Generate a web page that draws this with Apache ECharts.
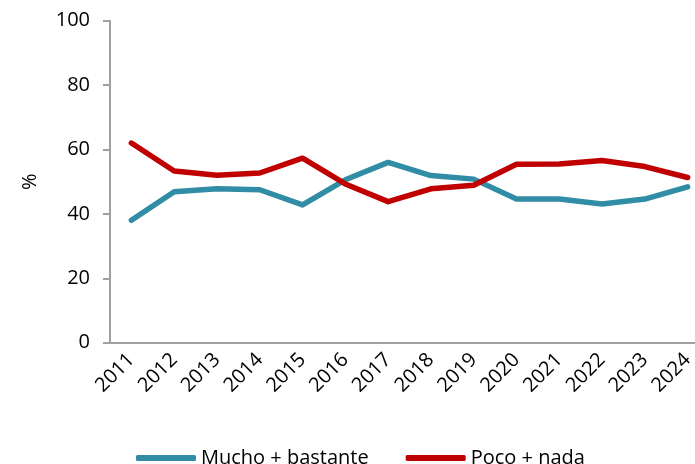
<!DOCTYPE html>
<html>
<head>
<meta charset="utf-8">
<script src="https://cdn.jsdelivr.net/npm/echarts@6/dist/echarts.min.js"></script>
<style>
  html, body { margin: 0; padding: 0; background: #fff; }
  #chart { width: 695px; height: 464px; }
</style>
</head>
<body>
<div id="chart"></div>
<script>
// años
const years = ['2011', '2012', '2013', '2014', '2015', '2016', '2017', '2018', '2019', '2020', '2021', '2022', '2023', '2024'];
// Mucho + bastante
const muchoBastante = [38.0, 46.9, 47.8, 47.5, 42.8, 50.6, 56.0, 51.9, 50.8, 44.6, 44.6, 43.1, 44.6, 48.4];
// Poco + nada
const pocoNada = [62.0, 53.3, 52.0, 52.7, 57.3, 49.3, 43.8, 47.8, 48.9, 55.4, 55.5, 56.6, 54.7, 51.3];
const yTicks = [0, 20, 40, 60, 80, 100];

const chart = echarts.init(document.getElementById('chart'));
const font = 'Open Sans';

const option = {
    animation: false,
    textStyle: { fontFamily: font },
    // el área de trazado sobrepasa el borde derecho (como en el original)
    grid: { left: 110, top: 20.7, width: 599, height: 322, outerBoundsMode: 'none', containLabel: false },
    legend: {
        left: 131,
        top: 443,
        icon: 'roundRect',
        itemWidth: 60,
        itemHeight: 6,
        itemGap: 37,
        textStyle: { fontFamily: font, fontSize: 20, color: '#000' },
        data: ['Mucho + bastante', 'Poco + nada']
    },
    xAxis: {
        type: 'category',
        data: years,
        boundaryGap: true,
        axisLine: { lineStyle: { color: '#A0A0A0', width: 2 } },
        axisTick: { alignWithLabel: true, length: 5, lineStyle: { color: '#A0A0A0', width: 2 } },
        axisLabel: { rotate: 45, margin: 14, fontSize: 20, color: '#000', fontFamily: font, interval: 0 }
    },
    yAxis: {
        type: 'value',
        min: yTicks[0],
        max: yTicks[yTicks.length - 1],
        interval: 20,
        name: '%',
        nameLocation: 'middle',
        nameGap: 70,
        nameTextStyle: { fontSize: 20, color: '#000', fontFamily: font },
        splitLine: { show: false },
        axisLine: { show: true, lineStyle: { color: '#A0A0A0', width: 2 } },
        axisTick: { show: true, length: 7, lineStyle: { color: '#A0A0A0', width: 2 } },
        axisLabel: { margin: 20, fontSize: 20, color: '#000', fontFamily: font }
    },
    series: [
        {
            name: 'Mucho + bastante',
            type: 'line',
            data: muchoBastante,
            symbol: 'none',
            color: '#318CA5',
            lineStyle: { width: 5.5, color: '#318CA5', cap: 'round', join: 'round' }
        },
        {
            name: 'Poco + nada',
            type: 'line',
            data: pocoNada,
            symbol: 'none',
            color: '#C00000',
            lineStyle: { width: 5.5, color: '#C00000', cap: 'round', join: 'round' }
        }
    ]
};

chart.setOption(option);
</script>
</body>
</html>
